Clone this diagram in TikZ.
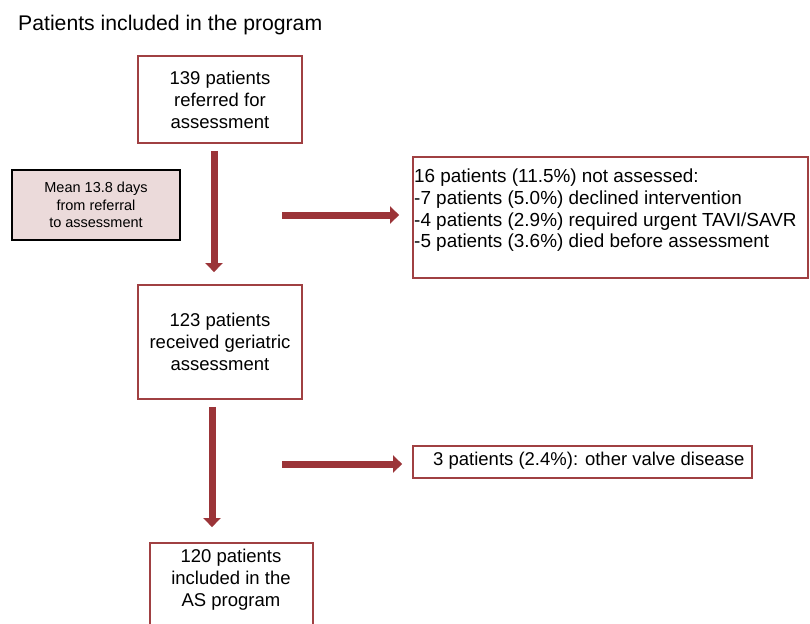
\documentclass[tikz,border=0pt]{standalone}
\usepackage{fontspec}
\setmainfont{Liberation Sans}
\usetikzlibrary{arrows.meta}
\definecolor{boxred}{RGB}{160,64,66}
\definecolor{arrred}{RGB}{155,52,56}
\definecolor{pinkfill}{RGB}{235,218,218}
\tikzset{
  mainbox/.style={draw=boxred, line width=1.8pt, fill=white, inner sep=0pt, align=center,
    font=\fontsize{18.5}{22}\selectfont},
  notebox/.style={draw=black, line width=2.2pt, fill=pinkfill, inner sep=0pt, align=center,
    font=\fontsize{14.5}{17.5}\selectfont},
  bodytext/.style={inner sep=0pt, align=left, font=\fontsize{18.5}{21.7}\selectfont},
  arr/.style={draw=arrred, line width=7pt, -{Triangle[length=9pt,width=17pt]}, arrred},
}
\begin{document}
\begin{tikzpicture}[x=1pt,y=-1pt]
\useasboundingbox (0,0) rectangle (810,623);
\clip (0,0) rectangle (810,623);
\node[anchor=west, inner sep=0pt, font=\fontsize{21.2}{24}\selectfont] (title) at (18,25) {Patients included in the program};

\node[mainbox, minimum width=164pt, minimum height=87pt] (b1) at (220,99.5) {139 patients\\referred for\\assessment};
\node[notebox, minimum width=168pt, minimum height=70pt] (mean) at (96,205) {Mean 13.8 days\\from referral\\to assessment};
\node[mainbox, minimum width=395pt, minimum height=121pt] (b2) at (610.5,217.5) {};
\node[bodytext, anchor=north west, font=\fontsize{18.9}{21.7}\selectfont] (b2t) at (414,169) {16 patients (11.5\%) not assessed:\\-7 patients (5.0\%) declined intervention\\-4 patients (2.9\%) required urgent TAVI/SAVR\\-5 patients (3.6\%) died before assessment};
\node[mainbox, minimum width=164pt, minimum height=114pt] (b3) at (220,342) {123 patients\\received geriatric\\assessment};
\node[mainbox, minimum width=339pt, minimum height=32pt] (b4) at (582.5,462) {};
\node[bodytext, anchor=west] (b4t) at (433,461) {3 patients (2.4\%): other valve disease};
\node[mainbox, minimum width=163pt, minimum height=94pt] (b5) at (231.5,590) {};
\node[bodytext, align=center, anchor=north] (b5t) at (231,549) {120 patients\\included in the\\ AS program};

\draw[arr] ([xshift=-6pt,yshift=-7pt]b1.south) -- ([xshift=-6pt,yshift=12pt]b3.north);
\draw[arr] ([xshift=-8pt,yshift=-7pt]b3.south) -- ([xshift=-19.5pt,yshift=15pt]b5.north);
\coordinate (h1s) at (282,215);
\coordinate (h2s) at (282,464);
\draw[arr] (h1s) -- ([xshift=-13pt]b2.west |- h1s);
\draw[arr] (h2s) -- ([xshift=-10pt]b4.west |- h2s);
\end{tikzpicture}
\end{document}
